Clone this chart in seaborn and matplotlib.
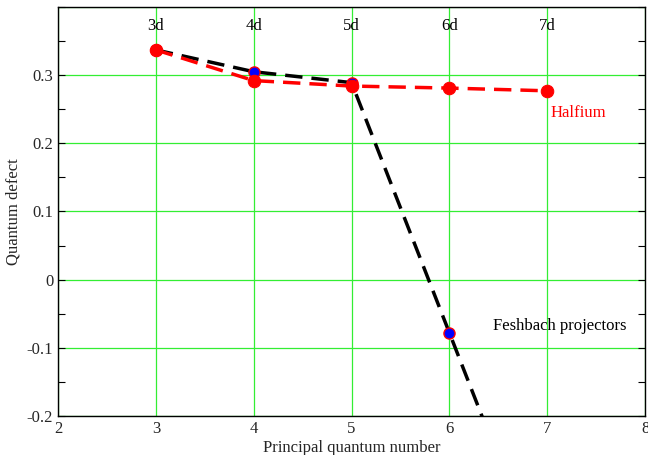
import matplotlib
matplotlib.use("Agg")
import matplotlib.pyplot as plt
import seaborn as sns
import pandas as pd
from matplotlib.ticker import MultipleLocator

n_half = [3, 4, 5, 6, 7]
qd_half = [0.337, 0.292, 0.284, 0.281, 0.277]
n_fesh = [3, 4, 5, 6, 7]
qd_fesh = [0.337, 0.305, 0.289, -0.078, -0.445]
state_labels = ["3d", "4d", "5d", "6d", "7d"]
x_ticks = [2, 3, 4, 5, 6, 7, 8]
y_ticks = [-0.2, -0.1, 0, 0.1, 0.2, 0.3]

sns.set_style("white")
plt.rcParams['font.family'] = ['Liberation Serif', 'DejaVu Serif']

fig = plt.figure(figsize=(6.48, 4.55), dpi=100)
ax = fig.add_axes([0.0895, 0.0857, 0.906, 0.899])

df_f = pd.DataFrame({"n": n_fesh, "qd": qd_fesh})
df_h = pd.DataFrame({"n": n_half, "qd": qd_half})

sns.lineplot(data=df_f, x="n", y="qd", ax=ax, color="black", lw=2.5,
             marker="o", markersize=8, markerfacecolor="blue",
             markeredgecolor="red", markeredgewidth=1.0, zorder=3)
ax.lines[-1].set_dashes([5, 2.6])
sns.lineplot(data=df_h, x="n", y="qd", ax=ax, color="red", lw=2.5,
             marker="o", markersize=9, markerfacecolor="red",
             markeredgecolor="red", zorder=4)
ax.lines[-1].set_dashes([5, 2.6])

ax.set_xlim(2, 8)
ax.set_ylim(-0.2, 0.4)
ax.set_xticks(x_ticks)
ax.set_xticklabels([str(v) for v in x_ticks])
ax.set_yticks(y_ticks + [0.4])
ax.set_yticklabels(["-0.2", "-0.1", "0", "0.1", "0.2", "0.3", ""])
ax.yaxis.set_minor_locator(MultipleLocator(0.05))
ax.tick_params(axis='y', which='both', direction='in', right=True, left=True,
               length=5, labelsize=12, color='black', width=0.8)
ax.tick_params(axis='x', which='both', direction='in', length=0, labelsize=12)
ax.grid(True, color="#33ee33", lw=0.9)
ax.set_axisbelow(True)
for s in ax.spines.values():
    s.set_color("black")
    s.set_linewidth(1.0)

for n, lab in zip(n_half, state_labels):
    ax.text(n, 0.372, lab, ha="center", va="center", fontsize=12, color="black")

ax.text(7.03, 0.245, "Halfium", color="red", fontsize=12, ha="left", va="center")
ax.text(6.45, -0.068, "Feshbach projectors", color="black", fontsize=12,
        ha="left", va="center")

ax.set_xlabel("Principal quantum number", fontsize=12, labelpad=2)
ax.set_ylabel("Quantum defect", fontsize=12, labelpad=4)

fig.savefig("out.png", dpi=100)
